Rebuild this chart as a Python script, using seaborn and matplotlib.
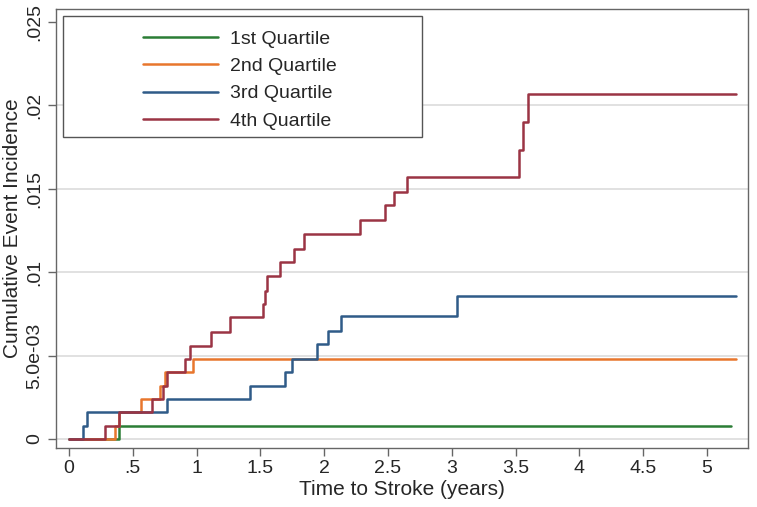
import pandas as pd
import seaborn as sns
import matplotlib.pyplot as plt
from matplotlib.patches import Rectangle

# cumulative incidence step curves (time in years, incidence)
q1_time = [0, 0.39, 5.19]
q1_cif = [0, 0.0008, 0.0008]

q2_time = [0, 0.36, 0.39, 0.565, 0.71, 0.75, 0.975, 5.23]
q2_cif = [0, 0.0008, 0.0016, 0.0024, 0.0032, 0.0040, 0.0048, 0.0048]

q3_time = [0, 0.107, 0.14, 0.77, 1.42, 1.69, 1.75, 1.94, 2.03, 2.13, 3.04, 5.23]
q3_cif = [0, 0.0008, 0.0016, 0.0024, 0.0032, 0.0040, 0.0048, 0.0057, 0.0065, 0.0074, 0.0086, 0.0086]

q4_time = [0, 0.28, 0.39, 0.65, 0.74, 0.77, 0.91, 0.95, 1.11, 1.26, 1.52, 1.535,
           1.55, 1.65, 1.76, 1.84, 2.28, 2.48, 2.55, 2.65, 3.53, 3.555, 3.60, 5.23]
q4_cif = [0, 0.0008, 0.0016, 0.0024, 0.0032, 0.0040, 0.0048, 0.0056, 0.0064, 0.0073, 0.0081, 0.0089,
          0.0098, 0.0106, 0.0114, 0.0123, 0.0131, 0.0140, 0.0148, 0.0157, 0.0173, 0.0190, 0.0207, 0.0207]

groups = ['1st Quartile', '2nd Quartile', '3rd Quartile', '4th Quartile']
colors = ['#2b7d35', '#e8762d', '#2f5b88', '#9b3444']

x_ticks = [0, 0.5, 1, 1.5, 2, 2.5, 3, 3.5, 4, 4.5, 5]
x_labels = ['0', '.5', '1', '1.5', '2', '2.5', '3', '3.5', '4', '4.5', '5']
y_ticks = [0, 0.005, 0.01, 0.015, 0.02, 0.025]
y_labels = ['0', '5.0e-03', '.01', '.015', '.02', '.025']

series = [(q1_time, q1_cif), (q2_time, q2_cif), (q3_time, q3_cif), (q4_time, q4_cif)]
df = pd.concat([pd.DataFrame({'time': t, 'cif': c, 'group': g})
                for (t, c), g in zip(series, groups)], ignore_index=True)

sns.set_theme(style='white')
plt.rcParams['font.family'] = ['Liberation Sans', 'DejaVu Sans']

fig = plt.figure(figsize=(7.57, 5.07), dpi=100)
ax = fig.add_axes([0.074, 0.1164, 0.914, 0.8658])

sns.lineplot(data=df, x='time', y='cif', hue='group', hue_order=groups,
             palette=colors, estimator=None, sort=False, drawstyle='steps-post',
             linewidth=1.8, ax=ax, legend=True)

ax.set_xlim(-0.102, 5.321)
ax.set_ylim(-0.00054, 0.02578)
ax.set_xticks(x_ticks)
ax.set_xticklabels(x_labels)
ax.set_yticks(y_ticks)
ax.set_yticklabels(y_labels, rotation=90, va='center')

ax.yaxis.grid(True, color='#dcdcdc', linewidth=1.2)
ax.yaxis.get_gridlines()[-1].set_visible(False)
ax.set_axisbelow(True)

for s in ax.spines.values():
    s.set_color('#666666')
    s.set_linewidth(1)
ax.tick_params(direction='out', length=6, width=1, color='#666666',
               labelsize=14, pad=3, left=True, bottom=True)

ax.set_xlabel('Time to Stroke (years)', fontsize=15, labelpad=2)
ax.set_ylabel('Cumulative Event Incidence', fontsize=15, labelpad=3)

# legend box in Stata style
ax.add_patch(Rectangle((0.010, 0.708), 0.519, 0.276, transform=ax.transAxes,
                       facecolor='white', edgecolor='#555555', linewidth=1, zorder=3))
handles, labels = ax.get_legend_handles_labels()
ax.legend(handles, labels, loc='upper left', bbox_to_anchor=(0.125, 0.952),
          frameon=False, fontsize=14, handlelength=3.9, handletextpad=0.6,
          labelspacing=0.5, borderpad=0, borderaxespad=0).set_zorder(5)

fig.savefig('out.png', dpi=100)
